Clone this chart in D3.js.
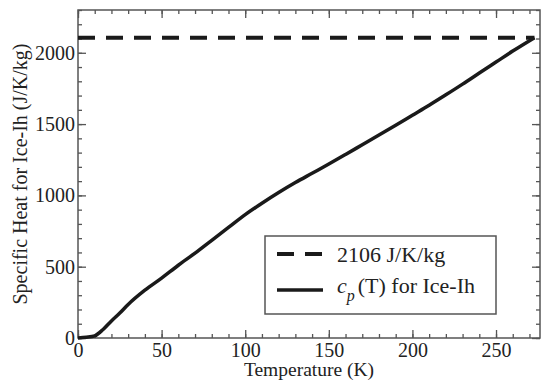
<!DOCTYPE html>
<html><head><meta charset="utf-8">
<script src="https://cdn.jsdelivr.net/npm/d3@7"></script>
<style>body{margin:0;background:#fff}svg{display:block}svg text{font-family:'Liberation Serif','DejaVu Serif',serif !important;fill:#222}</style>
</head><body><svg id="c" width="542" height="383" font-family="Liberation Serif, DejaVu Serif, serif"></svg>
<script>
const tempK = [0,5,10,15,20,25,30,40,50,60,70,80,90,100,110,120,130,140,150,160,170,180,190,200,210,220,230,240,250,260,273];
const cpIce = [0,5,15,60,120,175,235,335,420,510,595,685,775,865,945,1020,1090,1155,1220,1287,1355,1423,1492,1562,1632,1705,1780,1858,1935,2012,2106];
const constTemp = [0,273];
const constCp = [2106,2106];
const xTicks = [0,50,100,150,200,250];
const yTicks = [0,500,1000,1500,2000];
const legendLabels = ["2106 J/K/kg","(T) for Ice-Ih"];

const W=542,H=383,m={l:78,t:10,r:2,b:45};
const FF="Liberation Serif, DejaVu Serif, serif";
const svg=d3.select("#c");
const x=d3.scaleLinear().domain([0,276.3]).range([m.l,W-m.r]);
const y=d3.scaleLinear().domain([0,2300]).range([H-m.b,m.t]);
const axCol="#555";

const minorX=d3.range(0,277,10), minorY=d3.range(0,2301,100);
function style(g){g.attr("font-family",FF);g.select(".domain").remove();g.selectAll(".tick line").attr("stroke",axCol).attr("stroke-width",1.3);}
// bottom
svg.append("g").attr("transform",`translate(0,${H-m.b})`).call(d3.axisBottom(x).tickValues(minorX).tickSize(-4).tickFormat("")).call(style);
svg.append("g").attr("transform",`translate(0,${H-m.b})`).call(d3.axisBottom(x).tickValues(xTicks).tickSize(-8).tickPadding(0).tickFormat(d3.format("d"))).call(style)
  .selectAll("text").attr("font-size",20).attr("fill","#222").attr("dy",null).attr("y",19);
// top
svg.append("g").attr("transform",`translate(0,${m.t})`).call(d3.axisTop(x).tickValues(minorX).tickSize(-4).tickFormat("")).call(style);
svg.append("g").attr("transform",`translate(0,${m.t})`).call(d3.axisTop(x).tickValues(xTicks).tickSize(-8).tickFormat("")).call(style);
// left
svg.append("g").attr("transform",`translate(${m.l},0)`).call(d3.axisLeft(y).tickValues(minorY).tickSize(-4).tickFormat("")).call(style);
svg.append("g").attr("transform",`translate(${m.l},0)`).call(d3.axisLeft(y).tickValues(yTicks).tickSize(-8).tickPadding(3).tickFormat(d3.format("d"))).call(style)
  .selectAll("text").attr("font-size",20).attr("fill","#222");
// right
svg.append("g").attr("transform",`translate(${W-m.r},0)`).call(d3.axisRight(y).tickValues(minorY).tickSize(-4).tickFormat("")).call(style);
svg.append("g").attr("transform",`translate(${W-m.r},0)`).call(d3.axisRight(y).tickValues(yTicks).tickSize(-8).tickFormat("")).call(style);
// frame
svg.append("rect").attr("x",m.l).attr("y",m.t).attr("width",W-m.r-m.l).attr("height",H-m.b-m.t).attr("fill","none").attr("stroke",axCol).attr("stroke-width",1.5);

const line=d3.line().x(d=>x(d[0])).y(d=>y(d[1]));
svg.append("path").datum(constTemp.map((t,i)=>[t,constCp[i]])).attr("d",line).attr("fill","none").attr("stroke","#1a1a1a").attr("stroke-width",4).attr("stroke-dasharray","17,11");
svg.append("path").datum(tempK.map((t,i)=>[t,cpIce[i]])).attr("d",line.curve(d3.curveMonotoneX)).attr("fill","none").attr("stroke","#1a1a1a").attr("stroke-width",3.5);

// axis titles
svg.append("text").attr("x",(m.l+W-m.r)/2).attr("y",376).attr("text-anchor","middle").attr("font-size",19.5).attr("font-family",FF).text("Temperature (K)");
svg.append("text").attr("transform",`translate(27,${(m.t+H-m.b)/2}) rotate(-90)`).attr("text-anchor","middle").attr("font-size",20).attr("font-family",FF).text("Specific Heat for Ice-Ih (J/K/kg)");

// legend
const lg=svg.append("g").attr("font-family",FF);
lg.append("rect").attr("x",265).attr("y",236).attr("width",231).attr("height",78).attr("fill","#fff").attr("stroke",axCol).attr("stroke-width",1.5);
lg.append("line").attr("x1",277).attr("x2",323).attr("y1",254).attr("y2",254).attr("stroke","#1a1a1a").attr("stroke-width",4).attr("stroke-dasharray","17,11");
lg.append("line").attr("x1",277).attr("x2",323).attr("y1",290).attr("y2",290).attr("stroke","#1a1a1a").attr("stroke-width",3.5);
lg.append("text").attr("x",337).attr("y",262).attr("font-size",22).text(legendLabels[0]);
const t2=lg.append("text").attr("x",337).attr("y",293).attr("font-size",22);
t2.append("tspan").attr("font-style","italic").text("c");
t2.append("tspan").attr("font-style","italic").attr("font-size",16).attr("dy",8).text("p");
t2.append("tspan").attr("dy",-8).attr("dx",3).text(legendLabels[1]);
</script></body></html>
